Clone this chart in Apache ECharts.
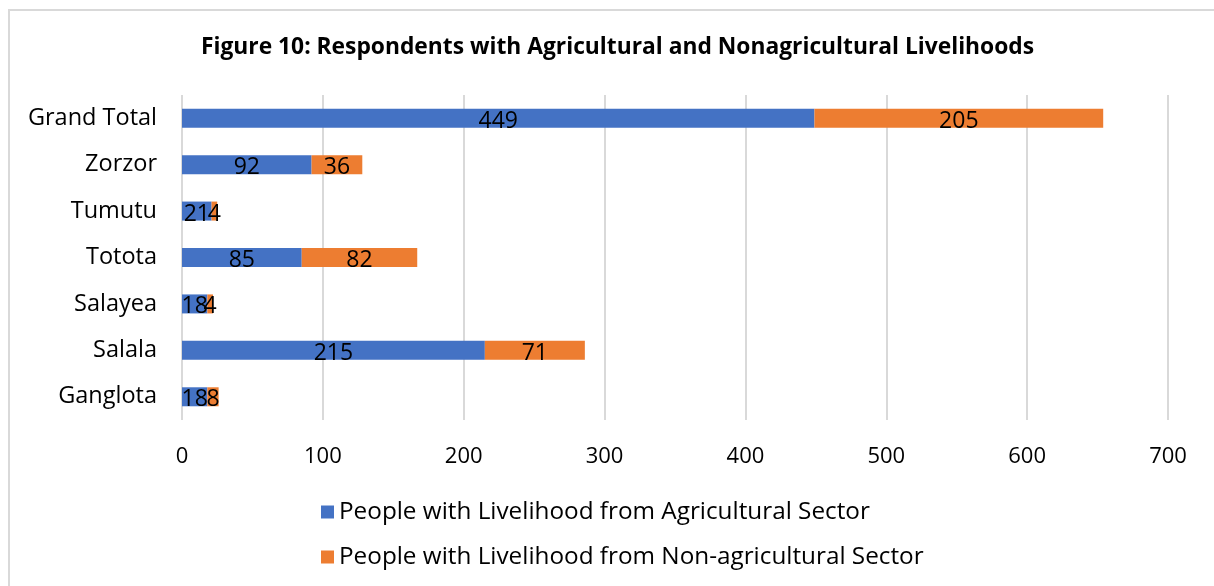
<!DOCTYPE html>
<html>
<head>
<meta charset="utf-8">
<script src="https://cdn.jsdelivr.net/npm/echarts@6/dist/echarts.min.js"></script>
<style>
  html, body { margin: 0; padding: 0; background: #fff; }
  #chart { width: 1214px; height: 586px; }
</style>
</head>
<body>
<div id="chart"></div>
<script>
// Communities, bottom to top on the category axis
const categories = ['Ganglota', 'Salala', 'Salayea', 'Totota', 'Tumutu', 'Zorzor', 'Grand Total'];
const agricultural = [18, 215, 18, 85, 21, 92, 449];
const nonAgricultural = [8, 71, 4, 82, 4, 36, 205];
const xTicks = [0, 100, 200, 300, 400, 500, 600, 700];

const FONT = '"Open Sans", sans-serif';
const chart = echarts.init(document.getElementById('chart'), null, { renderer: 'canvas' });

const labelStyle = {
  show: true,
  position: 'inside',
  color: '#000',
  fontFamily: FONT,
  fontSize: 23,
  offset: [0, 3]
};

chart.setOption({
  animation: false,
  backgroundColor: '#fff',
  title: {
    text: 'Figure 10: Respondents with Agricultural and Nonagricultural Livelihoods',
    left: 196,
    top: 31,
    textStyle: { fontFamily: FONT, fontWeight: 'bold', fontSize: 22.8, color: '#000' }
  },
  graphic: [{
    type: 'rect',
    shape: { x: 9, y: 10, width: 1240, height: 620 },
    style: { fill: 'none', stroke: '#d9d9d9', lineWidth: 2 },
    silent: true
  }],
  legend: {
    orient: 'vertical',
    left: 316,
    top: 495,
    itemWidth: 13,
    itemHeight: 13,
    itemGap: 21,
    icon: 'rect',
    textStyle: { fontFamily: FONT, fontSize: 24.3, color: '#000' },
    data: ['People with Livelihood from Agricultural Sector', 'People with Livelihood from Non-agricultural Sector']
  },
  grid: { left: 182, right: 46, top: 95, bottom: 166, containLabel: false },
  xAxis: {
    type: 'value',
    min: xTicks[0],
    max: xTicks[xTicks.length - 1],
    interval: 100,
    axisLine: { show: false },
    axisTick: { show: false },
    splitLine: { lineStyle: { color: '#d9d9d9', width: 2 } },
    axisLabel: { fontFamily: FONT, fontSize: 22, color: '#000', margin: 26 }
  },
  yAxis: {
    type: 'category',
    data: categories,
    axisLine: { show: false },
    axisTick: { show: false },
    axisLabel: { fontFamily: FONT, fontSize: 23.5, color: '#000', margin: 25 }
  },
  series: [
    {
      name: 'People with Livelihood from Agricultural Sector',
      type: 'bar',
      stack: 'total',
      barWidth: 19,
      itemStyle: { color: '#4472C4' },
      label: labelStyle,
      data: agricultural
    },
    {
      name: 'People with Livelihood from Non-agricultural Sector',
      type: 'bar',
      stack: 'total',
      barWidth: 19,
      itemStyle: { color: '#ED7D31' },
      label: labelStyle,
      data: nonAgricultural
    }
  ]
});
</script>
</body>
</html>
